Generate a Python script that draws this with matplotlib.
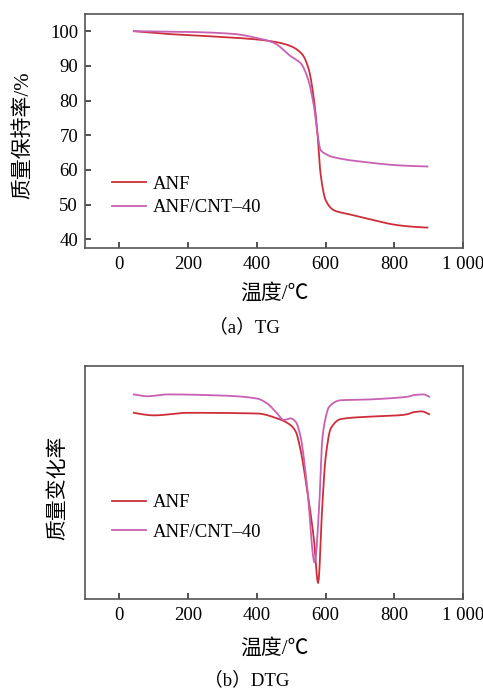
import matplotlib
matplotlib.use("Agg")
import matplotlib.pyplot as plt
import numpy as np

plt.rcParams['font.family'] = ['Liberation Serif', 'Noto Sans CJK SC']
plt.rcParams['axes.unicode_minus'] = False

# TG data
tg_anf_x = [42, 139, 250, 401, 459, 498, 532, 551, 566, 576, 585, 600, 624, 670, 721, 809, 860, 896]
tg_anf_y = [100, 99.2, 98.6, 97.6, 96.8, 95.7, 93.3, 88.9, 80.2, 70.6, 59, 51.3, 48.4, 47.2, 46, 44.1, 43.6, 43.4]
tg_cnt_x = [42, 197, 333, 401, 450, 498, 527, 546, 566, 576, 585, 600, 615, 721, 818, 896]
tg_cnt_y = [100, 99.8, 99.2, 98, 96.6, 92.8, 90.8, 87, 78.3, 70.6, 65.8, 64.6, 63.9, 62.2, 61.3, 61.0]

# DTG data (arbitrary units)
dtg_anf_x = [42, 60, 100, 200, 401, 459, 498, 513, 527, 546, 566, 578, 590, 600, 615, 644, 721, 819, 838, 857, 880, 901]
dtg_anf_y = [80, 79.5, 78.9, 80, 79.7, 77.6, 74.7, 71.9, 64, 46.9, 25.4, 6.9, 39.7, 61, 73.3, 77.3, 78.3, 79, 79.4, 80.3, 80.6, 79.4]
dtg_cnt_x = [42, 81, 139, 300, 401, 430, 459, 478, 498, 513, 527, 546, 568, 581, 590, 600, 610, 644, 721, 819, 838, 857, 886, 901]
dtg_cnt_y = [87.9, 87.1, 87.9, 87.4, 86.1, 84, 79.7, 76.9, 77.6, 76.1, 69.7, 48.3, 15.7, 39.7, 68.3, 78, 82.6, 85.4, 85.7, 86.6, 86.9, 87.6, 87.9, 86.9]

xticks = [0, 200, 400, 600, 800, 1000]
xticklabels = ['0', '200', '400', '600', '800', '1 000']
yticks_tg = [40, 50, 60, 70, 80, 90, 100]

c_anf = '#cc2f3a'
c_cnt = '#c860b4'
spine_c = '#555555'

def smooth(x, y, n=400):
    x = np.asarray(x, float); y = np.asarray(y, float)
    xs = np.linspace(x[0], x[-1], n)
    h = np.diff(x); d = np.diff(y) / h
    m = np.zeros_like(y)
    for i in range(1, len(y) - 1):
        if d[i-1] * d[i] > 0:
            w1 = 2*h[i] + h[i-1]; w2 = h[i] + 2*h[i-1]
            m[i] = (w1 + w2) / (w1/d[i-1] + w2/d[i])
    m[0] = d[0]; m[-1] = d[-1]
    idx = np.clip(np.searchsorted(x, xs) - 1, 0, len(x) - 2)
    t = (xs - x[idx]) / h[idx]
    h00 = 2*t**3 - 3*t**2 + 1; h10 = t**3 - 2*t**2 + t
    h01 = -2*t**3 + 3*t**2; h11 = t**3 - t**2
    ys = h00*y[idx] + h10*h[idx]*m[idx] + h01*y[idx+1] + h11*h[idx]*m[idx+1]
    return xs, ys

fig = plt.figure(figsize=(4.83, 6.91), dpi=100)
ax1 = fig.add_axes([0.176, 0.641, 0.783, 0.339])
ax2 = fig.add_axes([0.176, 0.133, 0.783, 0.337])

fs = 13.5
fsc = 15
for ax in (ax1, ax2):
    for s in ax.spines.values():
        s.set_color(spine_c)
        s.set_linewidth(1.2)
    ax.set_xlim(-100, 1000)
    ax.set_xticks(xticks)
    ax.set_xticklabels(xticklabels, fontsize=fs)
    ax.tick_params(axis='both', direction='in', length=4, width=1.2, color='#333333', pad=6)
    ax.set_xlabel('温度/℃', fontsize=fsc)

ax1.plot(*smooth(tg_anf_x, tg_anf_y), color=c_anf, lw=1.3, label='ANF')
ax1.plot(*smooth(tg_cnt_x, tg_cnt_y), color=c_cnt, lw=1.3, label='ANF/CNT\u201340')
ax1.set_ylim(37.5, 105)
ax1.set_yticks(yticks_tg)
ax1.set_yticklabels([str(v) for v in yticks_tg], fontsize=fs)
ax1.tick_params(axis='y', pad=5)
ax1.set_ylabel('质量保持率/%', fontsize=fsc)
ax1.yaxis.set_label_coords(-0.138, 0.483)
ax1.xaxis.set_label_coords(0.5, -0.154)
ax1.legend(loc='upper left', bbox_to_anchor=(0.046, 0.35), frameon=False, fontsize=fs,
           handlelength=1.8, handletextpad=0.4, labelspacing=0.36, borderpad=0)

ax2.plot(*smooth(dtg_anf_x, dtg_anf_y), color=c_anf, lw=1.3, label='ANF')
ax2.plot(*smooth(dtg_cnt_x, dtg_cnt_y), color=c_cnt, lw=1.3, label='ANF/CNT\u201340')
ax2.set_ylim(0, 100)
ax2.set_yticks([])
ax2.set_ylabel('质量变化率', fontsize=fsc)
ax2.yaxis.set_label_coords(-0.043, 0.48)
ax2.xaxis.set_label_coords(0.5, -0.172)
ax2.legend(loc='upper left', bbox_to_anchor=(0.046, 0.49), frameon=False, fontsize=fs,
           handlelength=1.8, handletextpad=0.4, labelspacing=0.66, borderpad=0)

fig.text(0.507, 0.527, '（a）TG', ha='center', va='center', fontsize=fs)
fig.text(0.511, 0.016, '（b）DTG', ha='center', va='center', fontsize=fs)

fig.savefig('out.png', dpi=100)
